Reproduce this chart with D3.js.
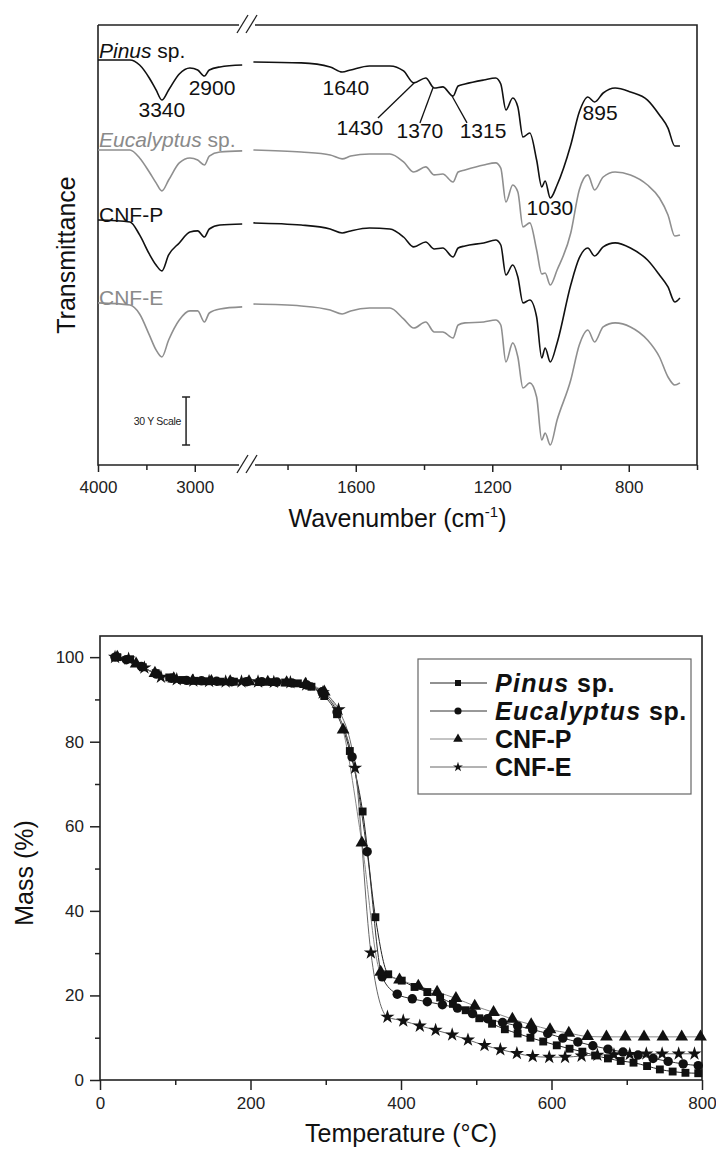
<!DOCTYPE html>
<html><head><meta charset="utf-8">
<script src="https://cdn.jsdelivr.net/npm/d3@7"></script>
<style>
body{margin:0;background:#fff}
svg{display:block;font-family:'Liberation Sans',Arial,sans-serif}
</style>
</head><body>
<svg id="c" width="716" height="1149"></svg>
<script>
// ---------------- FTIR data (top chart) ----------------
const ftirWavenumbers = [4000,3670,3570,3470,3400,3340,3270,3160,3050,2970,2900,2850,2740,2510,
  1900,1760,1675,1640,1615,1560,1500,1460,1430,1395,1370,1345,1315,1300,1280,1225,1190,1175,1160,1140,1125,1110,1090,1070,1055,1045,1030,1010,970,945,920,900,875,840,795,745,710,685,665,650];
const ftirPinus = [253.1,253.1,250.0,241.9,234.4,228.1,234.4,244.4,248.1,246.9,243.1,246.9,248.8,250.0,
  251.9,251.3,248.8,245.6,246.9,249.4,249.4,246.3,238.8,241.9,235.6,236.3,230.6,236.9,238.1,240.6,241.9,238.1,221.9,229.4,223.8,205.0,207.5,190.6,173.8,177.5,166.9,175.0,200.0,220.6,230.0,226.9,232.5,235.6,233.1,228.1,218.8,210.6,199.4,199.4];
const ftirEucalyptus = [196.9,196.9,191.9,183.1,176.3,171.3,178.1,188.8,191.9,190.6,187.5,193.1,195.6,196.3,
  196.9,195.6,193.8,191.3,193.1,194.4,194.4,189.4,183.1,186.3,181.3,181.9,176.9,183.1,184.4,187.5,188.8,185.6,164.4,175.0,170.6,148.8,151.3,134.4,119.4,120.0,112.5,121.9,145.0,171.9,181.3,171.9,180.0,183.1,181.3,175.0,166.9,156.3,143.1,143.8];
const ftirCnfP = [153.1,151.9,143.8,131.9,125.0,121.3,131.3,138.8,145.6,146.3,142.5,147.5,150.0,150.6,
  151.3,150.0,147.5,145.0,146.3,148.1,147.5,142.5,136.3,139.4,135.0,135.6,130.0,135.6,136.9,138.8,140.6,137.5,118.8,125.0,117.5,101.3,103.1,92.5,66.9,73.1,64.4,76.3,112.5,129.4,135.6,130.6,136.3,138.8,135.6,128.1,118.8,111.3,101.9,104.4];
const ftirCnfE = [101.3,100.0,94.4,81.3,71.9,67.5,78.1,90.6,96.3,96.3,89.4,95.0,97.5,98.8,
  100.6,99.4,96.9,94.4,96.3,98.1,98.1,91.3,85.6,89.4,83.1,83.1,79.4,87.5,88.8,89.4,90.6,87.5,64.4,76.3,67.5,48.1,51.3,42.5,15.6,20.0,12.5,28.1,53.1,75.0,84.4,76.9,86.3,88.8,86.3,78.1,67.5,55.0,50.0,51.3];
const ftirSeriesNames = ["Pinus", "Eucalyptus", "CNF-P", "CNF-E"];
const ftirTickMajor = [4000, 3000, 1600, 1200, 800];
const ftirTickMinor = [3500, 1800, 1400, 1000, 600];
const peakTexts = ["3340", "2900", "1640", "1430", "1370", "1315", "895", "1030"];
const peakWn = [3340, 2822, 1629, 1588, 1412, 1227, 884, 1031];
const peakVal = [217.5, 231.3, 231.3, 206.3, 204.4, 204.4, 215.6, 156.3];
const leaderFromWn = [1429, 1374, 1318];
const leaderFromVal = [238.8, 235.6, 230.6];
const leaderToWn = [1535, 1412, 1274];
const leaderToVal = [216.9, 213.8, 213.8];

// ---------------- TGA data (bottom chart) ----------------
const tgaPinusT = [23,40,57,74,92,109,126,143,160,178,195,212,229,246,263,281,298,315,332,349,366,383,401,418,435,452,469,486,504,521,538,555,572,589,607,624,641,658,675,692,709,727,744,761,778,795];
const tgaPinusMass = [100,99.5,97.6,96.2,95.2,94.6,94.4,94.3,94.2,94.2,94.2,94.1,94.1,94.0,93.8,93.0,90.8,86.5,77.8,63.5,38.5,25.0,23.5,22.0,20.8,19.5,18.0,16.5,14.6,13.3,12.0,11.0,10.0,9.1,8.2,7.4,6.7,5.8,5.1,4.5,4.1,3.3,2.5,2.0,1.7,1.6];
const tgaEucT = [20,35,55,75,95,115,135,155,175,195,215,235,255,275,295,315,335,355,375,395,415,435,455,475,495,515,535,555,575,595,615,635,655,675,695,715,735,755,775,795];
const tgaEucMass = [100,99.4,97.8,96.0,95.0,94.5,94.4,94.3,94.2,94.2,94.2,94.1,93.9,93.4,91.8,87.0,76.4,54.0,24.4,20.3,19.2,18.5,17.8,17.0,15.7,14.5,13.6,12.8,11.9,11.0,9.9,9.0,8.1,7.3,6.6,5.9,5.1,4.4,3.8,3.4];
const tgaCnfPT = [23,48,73,98,123,148,173,198,223,248,273,298,323,348,373,398,423,448,473,498,523,548,573,598,623,648,673,698,723,748,773,798];
const tgaCnfPMass = [100,98.4,96.2,94.9,94.4,94.3,94.2,94.2,94.1,94.0,93.6,91.8,82.8,56.1,25.5,23.7,22.2,20.8,19.3,17.5,16.0,14.4,13.1,11.9,11.1,10.3,10.2,10.2,10.2,10.2,10.2,10.2];
const tgaCnfET = [20,38,59,81,102,124,145,167,188,210,231,253,274,296,317,339,360,382,403,425,446,468,489,511,532,554,575,597,618,640,661,683,704,726,747,769,790];
const tgaCnfEMass = [100,99.6,97.5,95.3,94.7,94.4,94.3,94.2,94.2,94.2,94.1,94.0,93.5,91.6,87.6,73.8,30.1,14.9,14.0,12.8,11.8,10.7,9.5,8.2,7.2,6.3,5.6,5.4,5.4,5.7,5.9,6.0,6.1,6.2,6.2,6.2,6.2];
const tgaXTicks = [0, 200, 400, 600, 800];
const tgaXMinor = [100, 300, 500, 700];
const tgaYTicks = [0, 20, 40, 60, 80, 100];
const tgaYMinor = [10, 30, 50, 70, 90];

// ======================================================
const svg = d3.select("#c");
const BLACK = "#111", GRAY = "#8f8f8f";
const FONT = "'Liberation Sans',Arial,sans-serif";

// ---------------- Top chart ----------------
const xL = d3.scaleLinear().domain([4000, 2450]).range([98, 248]);
const xR = d3.scaleLinear().domain([1910, 600]).range([250, 697]);
const yT = d3.scaleLinear().domain([0, 275]).range([465, 25]);
const xw = w => (w > 2000 ? xL(w) : xR(w));
const gTop = svg.append("g");
const fx0 = xL(4000), fx1 = xR(600), fy0 = yT(275), fy1 = yT(0);
const bx = (xL.range()[1] + xR.range()[0]) / 2 - 1;

const frame = gTop.append("g").attr("stroke", "#222").attr("stroke-width", 1.6).attr("fill", "none");
frame.append("path").attr("d", `M${fx0},${fy0}H${bx - 9}M${bx + 7},${fy0}H${fx1}V${fy1}H${bx + 7}M${bx - 9},${fy1}H${fx0}V${fy0}`);
[fy0, fy1].forEach(yy => {
  frame.append("line").attr("x1", bx - 11).attr("y1", yy + 8).attr("x2", bx).attr("y2", yy - 10).attr("stroke-width", 1.3);
  frame.append("line").attr("x1", bx - 2).attr("y1", yy + 8).attr("x2", bx + 9).attr("y2", yy - 10).attr("stroke-width", 1.3);
});

function ftirAxis(scale, major, minor) {
  const gMaj = gTop.append("g").attr("transform", `translate(0,${fy1})`)
    .call(d3.axisBottom(scale).tickValues(major).tickSize(7).tickPadding(9).tickFormat(d3.format("d")));
  const gMin = gTop.append("g").attr("transform", `translate(0,${fy1})`)
    .call(d3.axisBottom(scale).tickValues(minor).tickSize(5).tickFormat(""));
  [gMaj, gMin].forEach(g => {
    g.select(".domain").remove();
    g.selectAll("line").attr("stroke", "#222").attr("stroke-width", 1.5);
    g.selectAll("text").attr("font-size", 17).attr("fill", "#222").attr("font-family", FONT);
  });
}
ftirAxis(xL, ftirTickMajor.filter(d => d > 2000), ftirTickMinor.filter(d => d > 2000));
ftirAxis(xR, ftirTickMajor.filter(d => d < 2000), ftirTickMinor.filter(d => d < 2000));

const ftirAll = [ftirPinus, ftirEucalyptus, ftirCnfP, ftirCnfE];
const ftirColors = [BLACK, GRAY, BLACK, GRAY];
const lineT = d3.line().x(d => xw(d[0])).y(d => yT(d[1])).curve(d3.curveMonotoneX);
ftirAll.forEach((vals, i) => {
  const pts = ftirWavenumbers.map((w, j) => [w, vals[j]]);
  [pts.filter(p => p[0] > 2000), pts.filter(p => p[0] < 2000)].forEach(seg => {
    gTop.append("path").attr("d", lineT(seg)).attr("fill", "none")
      .attr("stroke", ftirColors[i]).attr("stroke-width", 1.6).attr("stroke-linejoin", "round");
  });
});

const labelDy = [-2, -3, 2, 2];
ftirAll.forEach((vals, i) => {
  const t = gTop.append("text").attr("x", fx0 + 1).attr("y", yT(vals[0]) + labelDy[i])
    .attr("font-size", 21).attr("fill", ftirColors[i] === BLACK ? "#111" : "#8a8a8a");
  if (i < 2) {
    t.append("tspan").attr("font-style", "italic").text(ftirSeriesNames[i]);
    t.append("tspan").text(" sp.");
  } else t.text(ftirSeriesNames[i]);
});

peakTexts.forEach((s, i) => {
  gTop.append("text").attr("x", xw(peakWn[i])).attr("y", yT(peakVal[i]))
    .attr("text-anchor", "middle").attr("font-size", 21).attr("fill", "#111").text(s);
});
leaderFromWn.forEach((w, i) => {
  gTop.append("line").attr("x1", xw(w)).attr("y1", yT(leaderFromVal[i]))
    .attr("x2", xw(leaderToWn[i])).attr("y2", yT(leaderToVal[i]))
    .attr("stroke", "#111").attr("stroke-width", 1.3);
});

const sbX = xL(3090), sbLo = yT(12.5), sbHi = yT(42.5);
const sb = gTop.append("g").attr("stroke", "#222").attr("stroke-width", 1.5);
sb.append("line").attr("x1", sbX).attr("x2", sbX).attr("y1", sbLo).attr("y2", sbHi);
sb.append("line").attr("x1", sbX - 4).attr("x2", sbX + 4).attr("y1", sbLo).attr("y2", sbLo);
sb.append("line").attr("x1", sbX - 4).attr("x2", sbX + 4).attr("y1", sbHi).attr("y2", sbHi);
gTop.append("text").attr("x", sbX - 5).attr("y", (sbLo + sbHi) / 2 + 4).attr("text-anchor", "end")
  .attr("font-size", 10.5).attr("fill", "#222").attr("letter-spacing", -0.3).text("30 Y Scale");

const wt = gTop.append("text").attr("x", (fx0 + fx1) / 2).attr("y", 527).attr("text-anchor", "middle")
  .attr("font-size", 25).attr("fill", "#111");
wt.append("tspan").text("Wavenumber (cm");
wt.append("tspan").attr("font-size", 15).attr("dy", -10).text("-1");
wt.append("tspan").attr("dy", 10).text(")");
gTop.append("text").attr("transform", `translate(75,${(fy0 + fy1) / 2 + 10}) rotate(-90)`)
  .attr("text-anchor", "middle").attr("font-size", 25).attr("fill", "#111").text("Transmittance");

// ---------------- Bottom chart ----------------
const x = d3.scaleLinear().domain([0, 800]).range([100, 702]);
const y = d3.scaleLinear().domain([0, 105]).range([1080, 636]);
const bot = svg.append("g");
bot.append("rect").attr("x", x(0)).attr("y", y(105)).attr("width", x(800) - x(0)).attr("height", y(0) - y(105))
  .attr("fill", "none").attr("stroke", "#222").attr("stroke-width", 1.6);

function tgaAxis(axis, tr) {
  const g = bot.append("g").attr("transform", tr).call(axis);
  g.select(".domain").remove();
  g.selectAll("line").attr("stroke", "#222").attr("stroke-width", 1.5);
  g.selectAll("text").attr("font-size", 17).attr("fill", "#222").attr("font-family", FONT);
}
tgaAxis(d3.axisBottom(x).tickValues(tgaXTicks).tickSize(10).tickPadding(7).tickFormat(d3.format("d")), `translate(0,${y(0)})`);
tgaAxis(d3.axisBottom(x).tickValues(tgaXMinor).tickSize(5).tickFormat(""), `translate(0,${y(0)})`);
tgaAxis(d3.axisLeft(y).tickValues(tgaYTicks).tickSize(10).tickPadding(6).tickFormat(d3.format("d")), `translate(${x(0)},0)`);
tgaAxis(d3.axisLeft(y).tickValues(tgaYMinor).tickSize(5).tickFormat(""), `translate(${x(0)},0)`);

const tgaSeries = [
  {name: "Pinus", T: tgaPinusT, M: tgaPinusMass, sym: d3.symbolSquare, size: 62, lsize: 36, line: "#222"},
  {name: "Eucalyptus", T: tgaEucT, M: tgaEucMass, sym: d3.symbolCircle, size: 70, lsize: 40, line: "#333"},
  {name: "CNF-P", T: tgaCnfPT, M: tgaCnfPMass, sym: d3.symbolTriangle, size: 70, lsize: 40, line: "#888"},
  {name: "CNF-E", T: tgaCnfET, M: tgaCnfEMass, sym: d3.symbolStar, size: 62, lsize: 30, line: "#666"}
];
const lineM = d3.line().x(d => x(d[0])).y(d => y(d[1])).curve(d3.curveMonotoneX);
tgaSeries.forEach(s => {
  const pts = s.T.map((t, i) => [t, s.M[i]]);
  bot.append("path").attr("d", lineM(pts)).attr("fill", "none").attr("stroke", s.line).attr("stroke-width", 1);
});
tgaSeries.forEach(s => {
  const pts = s.T.map((t, i) => [t, s.M[i]]);
  bot.append("g").selectAll("path").data(pts).join("path")
    .attr("transform", d => `translate(${x(d[0])},${y(d[1])})`)
    .attr("d", d3.symbol(s.sym, s.size)).attr("fill", "#111");
});

const lg = bot.append("g");
lg.append("rect").attr("x", 418).attr("y", 659).attr("width", 273).attr("height", 135)
  .attr("fill", "#fff").attr("stroke", "#666").attr("stroke-width", 1.2);
tgaSeries.forEach((s, i) => {
  const cy = 683 + i * 28;
  lg.append("line").attr("x1", 430).attr("x2", 487).attr("y1", cy).attr("y2", cy).attr("stroke", s.line).attr("stroke-width", 1);
  lg.append("path").attr("transform", `translate(458,${cy})`).attr("d", d3.symbol(s.sym, s.lsize)).attr("fill", "#111");
  const t = lg.append("text").attr("x", 495).attr("y", cy + 8.5).attr("font-size", 25).attr("font-weight", "bold").attr("fill", "#111");
  if (i < 2) {
    t.append("tspan").attr("font-style", "italic").attr("letter-spacing", 1.3).text(s.name);
    t.append("tspan").attr("letter-spacing", 0.6).text(" sp.");
  } else t.text(s.name);
});

bot.append("text").attr("x", (x(0) + x(800)) / 2).attr("y", 1142).attr("text-anchor", "middle")
  .attr("font-size", 25).attr("fill", "#111").text("Temperature (°C)");
bot.append("text").attr("transform", `translate(33,${(y(0) + y(105)) / 2 + 15}) rotate(-90)`)
  .attr("text-anchor", "middle").attr("font-size", 25).attr("fill", "#111").text("Mass (%)");
</script>
</body></html>
